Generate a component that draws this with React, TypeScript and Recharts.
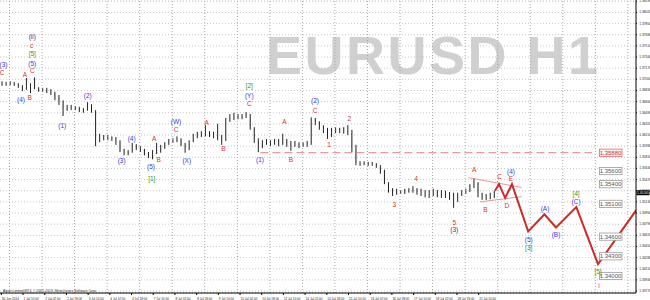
import React from "react";
import { ComposedChart, Bar, Line, Scatter, XAxis, YAxis, CartesianGrid, ReferenceLine } from "recharts";

const FONT = "'Liberation Sans', Arial, sans-serif";

// 3-hour candles, 30 Jun 17:00 -> 21 Jul 21:00
const firstOpen = 1.3694;
const closes = [
  1.3693, 1.3694, 1.3694, 1.3693, 1.369, 1.3685, 1.3693, 1.369, 1.3687, 1.3684,
  1.3684, 1.3682, 1.3679, 1.3673, 1.3667, 1.3656, 1.3656, 1.3658, 1.3656, 1.3653,
  1.3653, 1.3662, 1.3652, 1.361, 1.3612, 1.3612, 1.361, 1.361, 1.3604, 1.3592,
  1.3589, 1.3589, 1.36, 1.3597, 1.3592, 1.3588, 1.3583, 1.3589, 1.3592, 1.3597,
  1.3603, 1.3606, 1.3607, 1.3609, 1.3601, 1.3595, 1.3604, 1.3613, 1.3617, 1.3617,
  1.3618, 1.3615, 1.3613, 1.3612, 1.3607, 1.3638, 1.3642, 1.3644, 1.3642, 1.3644,
  1.3647, 1.3626, 1.3607, 1.3598, 1.3604, 1.3603, 1.3606, 1.3603, 1.3604, 1.3607,
  1.3601, 1.36, 1.3601, 1.36, 1.3601, 1.3603, 1.3638, 1.3633, 1.3627, 1.3623,
  1.3613, 1.3623, 1.3623, 1.3624, 1.3621, 1.3618, 1.3595, 1.3572, 1.3572, 1.3572,
  1.3571, 1.3571, 1.3568, 1.3559, 1.3543, 1.3531, 1.3527, 1.3528, 1.3528, 1.353,
  1.3531, 1.3533, 1.3528, 1.3527, 1.3525, 1.3524, 1.3528, 1.3525, 1.3524, 1.3522,
  1.352, 1.3516, 1.3524, 1.3528, 1.3531, 1.3537, 1.3543, 1.3525, 1.352, 1.352,
  1.3522, 1.3527,
];
const highs = [
  1.3697, 1.3696, 1.3697, 1.3696, 1.3694, 1.3691, 1.3702, 1.3694, 1.3703, 1.3688,
  1.3687, 1.3687, 1.3685, 1.3681, 1.3676, 1.3668, 1.3661, 1.3661, 1.3659, 1.3658,
  1.3656, 1.3665, 1.3662, 1.3653, 1.3617, 1.3615, 1.3615, 1.3613, 1.3612, 1.3607,
  1.3594, 1.3592, 1.3603, 1.3601, 1.3598, 1.3594, 1.3589, 1.3592, 1.3603, 1.36,
  1.3604, 1.3609, 1.361, 1.3613, 1.361, 1.3603, 1.3607, 1.3617, 1.362, 1.3621,
  1.363, 1.3621, 1.362, 1.3632, 1.3615, 1.3641, 1.3647, 1.3649, 1.3647, 1.3647,
  1.365, 1.3647, 1.3627, 1.361, 1.3607, 1.3609, 1.3607, 1.3609, 1.3609, 1.3617,
  1.3609, 1.3606, 1.3606, 1.3604, 1.3604, 1.3606, 1.3642, 1.3641, 1.3636, 1.363,
  1.3626, 1.3626, 1.3627, 1.3626, 1.3627, 1.363, 1.3623, 1.36, 1.3575, 1.3575,
  1.3574, 1.3574, 1.3572, 1.3569, 1.3562, 1.3543, 1.3534, 1.3533, 1.3531, 1.3533,
  1.3534, 1.3537, 1.3534, 1.3533, 1.3531, 1.3531, 1.3533, 1.3531, 1.3531, 1.353,
  1.3528, 1.3527, 1.3527, 1.3531, 1.3533, 1.354, 1.3549, 1.3543, 1.3527, 1.3525,
  1.3527, 1.353,
];
const lows = [
  1.369, 1.369, 1.3691, 1.369, 1.3687, 1.3682, 1.3684, 1.3679, 1.3685, 1.3681,
  1.3681, 1.3679, 1.3676, 1.3668, 1.3661, 1.3644, 1.3652, 1.3653, 1.3653, 1.365,
  1.3649, 1.3652, 1.3649, 1.3598, 1.3604, 1.3607, 1.3607, 1.3606, 1.36, 1.3589,
  1.3584, 1.3584, 1.3588, 1.3592, 1.3589, 1.3584, 1.358, 1.3578, 1.3586, 1.3588,
  1.3594, 1.36, 1.3603, 1.3604, 1.3598, 1.3588, 1.3592, 1.3604, 1.361, 1.3612,
  1.3613, 1.3612, 1.361, 1.3607, 1.36, 1.3606, 1.3635, 1.3638, 1.3639, 1.3639,
  1.3641, 1.3623, 1.3603, 1.3589, 1.3595, 1.36, 1.3598, 1.36, 1.3598, 1.36,
  1.3597, 1.3591, 1.3597, 1.3595, 1.3597, 1.3597, 1.36, 1.363, 1.3623, 1.3618,
  1.3609, 1.3612, 1.3618, 1.3618, 1.3617, 1.3615, 1.3589, 1.3569, 1.3568, 1.3569,
  1.3568, 1.3568, 1.3565, 1.3556, 1.354, 1.3527, 1.3522, 1.3524, 1.3525, 1.3525,
  1.3527, 1.3527, 1.3524, 1.3522, 1.352, 1.3519, 1.3522, 1.352, 1.3519, 1.3519,
  1.3516, 1.3504, 1.3513, 1.3522, 1.3525, 1.3528, 1.3534, 1.352, 1.3516, 1.3516,
  1.3517, 1.3519,
];

// x axis works in hours since 30 Jun 17:00
const xTickHours = [1, 17, 33, 49, 65, 81, 97, 113, 129, 145, 161, 177, 193, 209, 225, 241, 257, 273, 289, 305, 321, 337, 353];
const xTickLabels = [
  "30 Jun 2014", "1 Jul 10:00", "2 Jul 02:00", "2 Jul 18:00", "3 Jul 10:00", "4 Jul 02:00",
  "4 Jul 18:00", "7 Jul 10:00", "8 Jul 02:00", "8 Jul 18:00", "9 Jul 10:00", "10 Jul 02:00",
  "10 Jul 18:00", "11 Jul 10:00", "14 Jul 02:00", "14 Jul 18:00", "15 Jul 10:00", "16 Jul 02:00",
  "16 Jul 18:00", "17 Jul 10:00", "18 Jul 02:00", "18 Jul 18:00", "21 Jul 10:00",
];
const dayBreaks = [7, 31, 55, 79, 103, 127, 151, 175, 199, 223, 247, 271, 295, 319, 343, 367, 391, 415, 439, 463];
const yTicks = [
  1.3819, 1.3802, 1.3785, 1.3768, 1.3751, 1.3734, 1.3717, 1.37, 1.3683, 1.3666, 1.3649, 1.3632, 1.3615, 1.3598,
  1.3581, 1.3564, 1.3547, 1.353, 1.3513, 1.3496, 1.3479, 1.3462, 1.3445, 1.3428, 1.3411, 1.3394, 1.3377,
];

// forecast path (hand drawn wave count)
const projHours = [365, 368, 372.5, 377.5, 389.5, 401.5, 410, 425, 441, 469];
const projPrices = [1.353, 1.354, 1.3519, 1.354, 1.3468, 1.3494, 1.3474, 1.3505, 1.3418, 1.35];

// triangle borders
const triUpper = [[345.4, 1.355], [384.7, 1.3535]];
const triLower = [[354, 1.3513], [384.7, 1.3521]];

const levelPrices = [1.3588, 1.356, 1.354, 1.351, 1.346, 1.343, 1.34];
const levelHour = 450.2;
const bidPrice = 1.3527;

const waveText = [
  "(3)", "C", "(ii)", "c", "[5]", "(5)", "C", "A", "(4)", "B",
  "(2)", "(1)", "(4)", "A", "(W)", "C", "A", "(3)", "B", "(5)",
  "[1]", "(X)", "B", "[2]", "(Y)", "C", "A", "(2)", "C", "2",
  "1", "(1)", "B", "3", "4", "A", "B", "C", "(4)", "E",
  "D", "5", "(3)", "(5)", "[3]", "(A)", "(B)", "[4]", "(C)", "[5]", "i",
];
const waveHour = [
  2.6, 1.6, 23.8, 23.4, 23.8, 23.8, 23.8, 18.4, 15.5, 21.9,
  64.7, 45.9, 97.1, 113.6, 129.8, 129.8, 152.4, 89.7, 117, 111.4,
  111.9, 137.7, 164.7, 183.8, 183.8, 183.8, 209.7, 232.3, 232.3, 257.6,
  242.6, 191.7, 214.6, 290.8, 306.8, 349.6, 357.9, 368.5, 376.8, 376.8,
  373.7, 335, 335, 389.9, 389.9, 401.9, 410, 424.8, 424.8, 441, 441.7,
];
const wavePrice = [
  1.3723, 1.371, 1.3765, 1.3751, 1.374, 1.3724, 1.3713, 1.3707, 1.3669, 1.3673,
  1.3675, 1.363, 1.3609, 1.361, 1.3635, 1.3623, 1.3634, 1.3576, 1.3578, 1.3567,
  1.3549, 1.3576, 1.3594, 1.3691, 1.3676, 1.3663, 1.3635, 1.3668, 1.3653, 1.364,
  1.3601, 1.3577, 1.3578, 1.3509, 1.3549, 1.3562, 1.3502, 1.3551, 1.3559, 1.3548,
  1.3507, 1.3482, 1.3471, 1.3456, 1.3443, 1.3503, 1.3464, 1.3526, 1.3513, 1.3407, 1.3386,
];
const waveDegree = [
  "minor", "sub", "inter", "sub", "primary", "minor", "sub", "sub", "minor", "sub",
  "minor", "minor", "minor", "sub", "minor", "sub", "sub", "minor", "sub", "minor",
  "primary", "minor", "sub", "primary", "minor", "sub", "sub", "minor", "sub", "sub",
  "sub", "minor", "sub", "sub", "sub", "sub", "sub", "sub", "minor", "sub",
  "sub", "sub", "inter", "minor", "primary", "minor", "minor", "primary", "minor", "primary", "cycle",
];
const degreeColor: Record<string, string> = {
  minor: "#3a3ae6",
  sub: "#d83030",
  primary: "#2f9a2f",
  inter: "#4a2d9c",
  cycle: "#d23c6e",
};

const candleTable = closes.map((c, i) => {
  const open = i === 0 ? firstOpen : closes[i - 1];
  return {
    h: 1.5 + 3 * i,
    open,
    close: c,
    high: Math.max(highs[i], open, c),
    low: Math.min(lows[i], open, c),
    range: [Math.min(lows[i], open, c), Math.max(highs[i], open, c)],
  };
});
const projTable = projHours.map((h, i) => ({ h, p: projPrices[i] }));
const waveTable = waveText.map((t, i) => ({ h: waveHour[i], p: wavePrice[i], t, kind: waveDegree[i] }));
const levelTable = levelPrices.map((p, i) => ({ h: levelHour, p, first: i === 0 }));

function Candle(props: any) {
  const { x, y, width, height, payload } = props;
  if (!payload || height == null) return null;
  const top = Math.min(y, y + height);
  const hgt = Math.abs(height);
  const k = hgt / (payload.high - payload.low || 1e-9);
  const hi = Math.max(payload.open, payload.close);
  const lo = Math.min(payload.open, payload.close);
  const by = top + (payload.high - hi) * k;
  const bh = Math.max(1, (hi - lo) * k);
  const cx = x + width / 2;
  const bull = payload.close >= payload.open;
  return (
    <g>
      <line x1={cx} x2={cx} y1={top} y2={top + hgt} stroke="#222" strokeWidth={1} />
      <rect x={x} y={by} width={width} height={bh} fill={bull ? "#555" : "#111"} />
    </g>
  );
}

function WaveLabel(props: any) {
  const { cx, cy, payload } = props;
  return (
    <text x={cx} y={cy} textAnchor="middle" dominantBaseline="central" fontSize={6.5} fontFamily={FONT} fill={degreeColor[payload.kind]}>
      {payload.t}
    </text>
  );
}

function LevelBox(props: any) {
  const { cx, cy, payload } = props;
  const col = payload.first ? "#e06565" : "#9a9a9a";
  return (
    <g>
      <rect x={cx - 11} y={cy - 3.6} width={22.5} height={7.2} fill={payload.first ? "#fff3f3" : "#fff"} stroke={col} strokeWidth={0.8} />
      <text x={cx} y={cy + 0.2} textAnchor="middle" dominantBaseline="central" fontSize={6} fontFamily={FONT} fill={payload.first ? "#d03030" : "#555"}>
        {payload.p.toFixed(5)}
      </text>
    </g>
  );
}

function XTick(props: any) {
  const { x, y, payload } = props;
  const idx = xTickHours.indexOf(payload.value);
  return (
    <text x={x + 0.5} y={y + 3} fontSize={3.1} fontFamily={FONT} fill="#222">
      {xTickLabels[idx]}
    </text>
  );
}

function YTick(props: any) {
  const { x, y, payload } = props;
  return (
    <text x={x + 0.2} y={y} dominantBaseline="central" fontSize={3.3} fontFamily={FONT} fill="#222">
      {payload.value.toFixed(5)}
    </text>
  );
}

function BidLabel(props: any) {
  const vb = props.viewBox || {};
  const x = (vb.x || 0) + (vb.width || 0) + 0.5;
  const y = vb.y || 0;
  return (
    <g>
      <rect x={x} y={y - 2.5} width={13} height={5} fill="#000" />
      <text x={x + 0.5} y={y} dominantBaseline="central" fontSize={3.3} fontFamily={FONT} fill="#fff">
        1.35265
      </text>
    </g>
  );
}

export default function App() {
  return (
    <div style={{ position: "absolute", left: 0, top: 0, width: 650, height: 300, background: "#fff", overflow: "hidden" }}>
      <svg width={650} height={300} style={{ position: "absolute", left: 0, top: 0 }}>
        <text x={266} y={73.5} fontSize={54} fontWeight="bold" fontFamily={FONT} fill="#d0d0d0" letterSpacing={2.5}>
          EURUSD H1
        </text>
      </svg>
      <div style={{ position: "absolute", left: 0, top: 0 }}>
        <ComposedChart width={650} height={300} data={candleTable} margin={{ top: 0, right: 0, bottom: 0, left: 0 }}>
          <CartesianGrid vertical={false} stroke="#c8c8c8" strokeDasharray="1 2" />
          {dayBreaks.map((d) => (
            <ReferenceLine key={d} x={d} stroke="#a8a8a8" strokeDasharray="1 2" />
          ))}
          <XAxis
            dataKey="h"
            type="number"
            domain={[0, 469]}
            allowDataOverflow
            ticks={xTickHours}
            tick={<XTick />}
            tickSize={2}
            height={7}
            interval={0}
            stroke="#000"
          />
          <YAxis
            orientation="right"
            type="number"
            domain={[1.3374, 1.3821]}
            allowDataOverflow
            ticks={yTicks}
            tick={<YTick />}
            tickSize={1}
            width={14}
            interval={0}
            stroke="#000"
          />
          <ReferenceLine segment={[{ x: 192, y: 1.3588 }, { x: 436.5, y: 1.3588 }]} stroke="#e58080" strokeDasharray="8 4" />
          <ReferenceLine segment={[{ x: triUpper[0][0], y: triUpper[0][1] }, { x: triUpper[1][0], y: triUpper[1][1] }]} stroke="#e39a9a" />
          <ReferenceLine segment={[{ x: triLower[0][0], y: triLower[0][1] }, { x: triLower[1][0], y: triLower[1][1] }]} stroke="#e39a9a" />
          <Bar dataKey="range" barSize={2.6} shape={<Candle />} activeBar={false} isAnimationActive={false} />
          <Line data={projTable} dataKey="p" type="linear" stroke="#cc2b2b" strokeWidth={2} dot={false} activeDot={false} isAnimationActive={false} />
          <Scatter data={levelTable} dataKey="p" shape={<LevelBox />} isAnimationActive={false} />
          <Scatter data={waveTable} dataKey="p" shape={<WaveLabel />} isAnimationActive={false} />
          <ReferenceLine y={bidPrice} stroke="none" label={<BidLabel />} />
        </ComposedChart>
      </div>
      <svg width={650} height={300} style={{ position: "absolute", left: 0, top: 0, pointerEvents: "none" }}>
        <text x={3} y={292} fontSize={3.4} fontFamily={FONT} fill="#333">
          Alpari Limited MT4, © 2001-2013, MetaQuotes Software Corp.
        </text>
      </svg>
    </div>
  );
}
